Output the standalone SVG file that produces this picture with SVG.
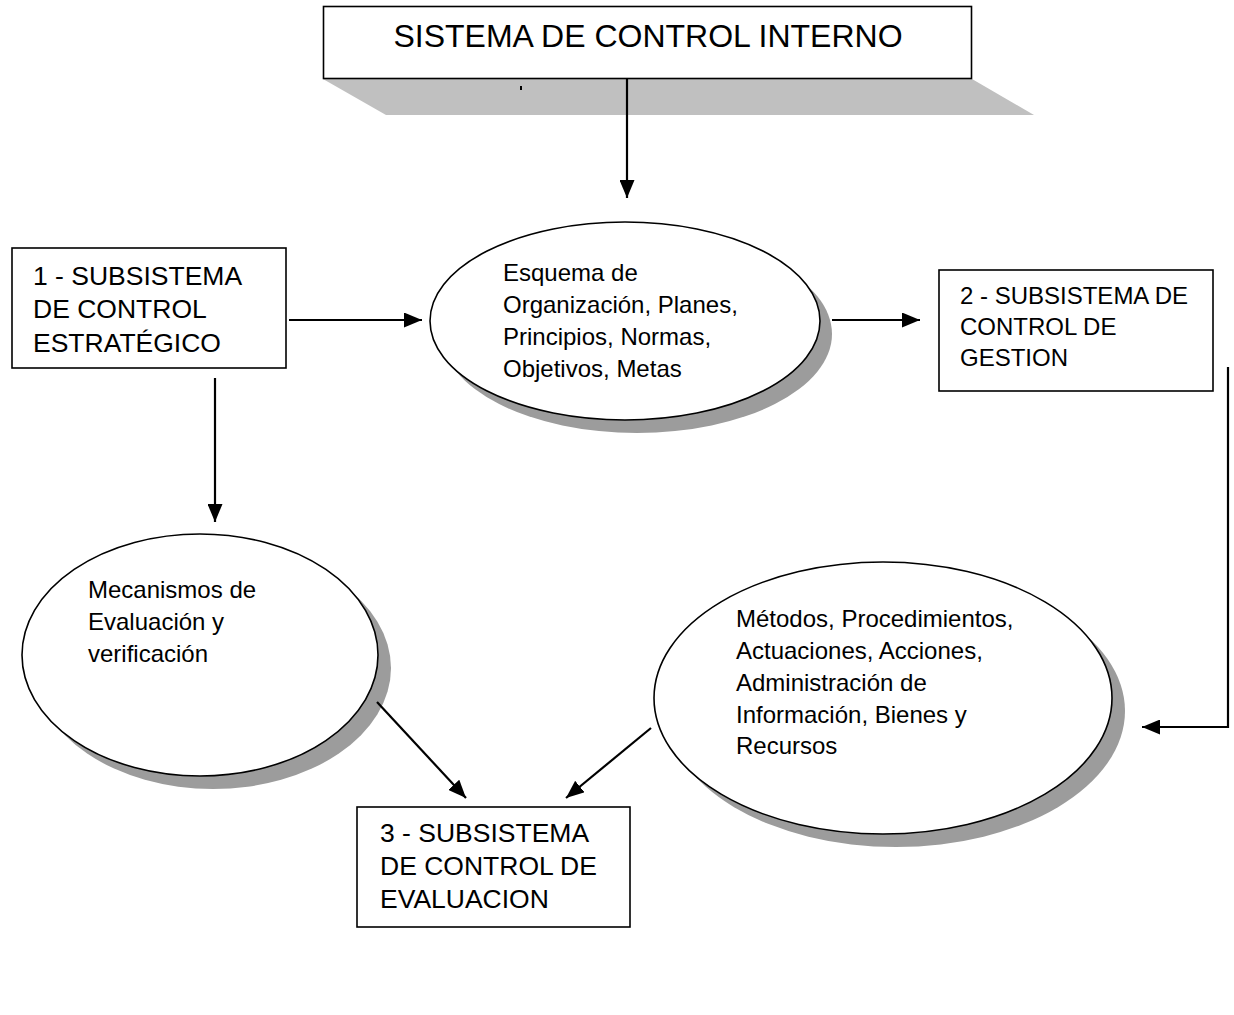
<svg xmlns="http://www.w3.org/2000/svg" width="1234" height="1015" viewBox="0 0 1234 1015">
  <style>
    .box { fill: #ffffff; stroke: #000000; stroke-width: 1.6; }
    .oval { fill: #ffffff; stroke: #000000; stroke-width: 1.6; }
    .oval-shadow { fill: #9c9c9c; stroke: none; }
    .conn { fill: none; stroke: #000000; stroke-width: 2.2; }
    .t { font-family: "Liberation Sans", Arial, sans-serif; fill: #000000; }
    .title { font-size: 32px; }
    .boxtxt { font-size: 26.5px; }
    .boxtxt-sm { font-size: 24px; }
    .ovaltxt { font-size: 24px; }
  </style>
  <defs>
    <marker id="arrow" markerUnits="userSpaceOnUse" markerWidth="18" markerHeight="15" refX="18" refY="7.5" orient="auto">
      <path d="M0,0 L18,7.5 L0,15 Z" fill="#000000"/>
    </marker>
  </defs>

  <rect width="1234" height="1015" fill="#ffffff"/>

  <!-- title block with its slanted floor shadow -->
  <g id="sistema-control-interno">
    <polygon points="323,79 972,79 1034,115 386,115" fill="#c0c0c0"/>
    <rect x="520" y="86" width="2" height="4" fill="#000000"/>
    <rect class="box" x="323.5" y="6.5" width="648" height="72" stroke-width="2"/>
    <text class="t title" x="648" y="47" text-anchor="middle">SISTEMA DE CONTROL INTERNO</text>
  </g>

  <g id="subsistema-estrategico">
    <rect class="box" x="12" y="248" width="274" height="120"/>
    <text class="t boxtxt" x="33" y="285">1 - SUBSISTEMA</text>
    <text class="t boxtxt" x="33" y="318">DE CONTROL</text>
    <text class="t boxtxt" x="33" y="352">ESTRATÉGICO</text>
  </g>

  <g id="esquema-organizacion">
    <ellipse class="oval-shadow" cx="637" cy="334" rx="195" ry="99"/>
    <ellipse class="oval" cx="625" cy="321" rx="195" ry="99"/>
    <text class="t ovaltxt" x="503" y="281">Esquema de</text>
    <text class="t ovaltxt" x="503" y="313">Organización, Planes,</text>
    <text class="t ovaltxt" x="503" y="345">Principios, Normas,</text>
    <text class="t ovaltxt" x="503" y="377">Objetivos, Metas</text>
  </g>

  <g id="subsistema-gestion">
    <rect class="box" x="939" y="270" width="274" height="121"/>
    <text class="t boxtxt-sm" x="960" y="304">2 - SUBSISTEMA DE</text>
    <text class="t boxtxt-sm" x="960" y="335">CONTROL DE</text>
    <text class="t boxtxt-sm" x="960" y="366">GESTION</text>
  </g>

  <g id="mecanismos-evaluacion">
    <ellipse class="oval-shadow" cx="213" cy="668" rx="178" ry="121"/>
    <ellipse class="oval" cx="200" cy="655" rx="178" ry="121"/>
    <text class="t ovaltxt" x="88" y="598">Mecanismos de</text>
    <text class="t ovaltxt" x="88" y="630">Evaluación y</text>
    <text class="t ovaltxt" x="88" y="662">verificación</text>
  </g>

  <g id="metodos-procedimientos">
    <ellipse class="oval-shadow" cx="896" cy="711" rx="229" ry="136"/>
    <ellipse class="oval" cx="883" cy="698" rx="229" ry="136"/>
    <text class="t ovaltxt" x="736" y="627">Métodos, Procedimientos,</text>
    <text class="t ovaltxt" x="736" y="659">Actuaciones, Acciones,</text>
    <text class="t ovaltxt" x="736" y="691">Administración de</text>
    <text class="t ovaltxt" x="736" y="723">Información, Bienes y</text>
    <text class="t ovaltxt" x="736" y="754">Recursos</text>
  </g>

  <g id="subsistema-evaluacion">
    <rect class="box" x="357" y="807" width="273" height="120"/>
    <text class="t boxtxt" x="380" y="842">3 - SUBSISTEMA</text>
    <text class="t boxtxt" x="380" y="875">DE CONTROL DE</text>
    <text class="t boxtxt" x="380" y="908">EVALUACION</text>
  </g>

  <g id="connectors">
    <line class="conn" x1="627" y1="79" x2="627" y2="198" marker-end="url(#arrow)"/>
    <line class="conn" x1="289" y1="320" x2="422" y2="320" marker-end="url(#arrow)"/>
    <line class="conn" x1="832" y1="320" x2="920" y2="320" marker-end="url(#arrow)"/>
    <line class="conn" x1="215" y1="378" x2="215" y2="522" marker-end="url(#arrow)"/>
    <polyline class="conn" points="1228,367 1228,727 1142,727" marker-end="url(#arrow)"/>
    <line class="conn" x1="377" y1="702" x2="466" y2="798" marker-end="url(#arrow)"/>
    <line class="conn" x1="651" y1="728" x2="566" y2="798" marker-end="url(#arrow)"/>
  </g>
</svg>
